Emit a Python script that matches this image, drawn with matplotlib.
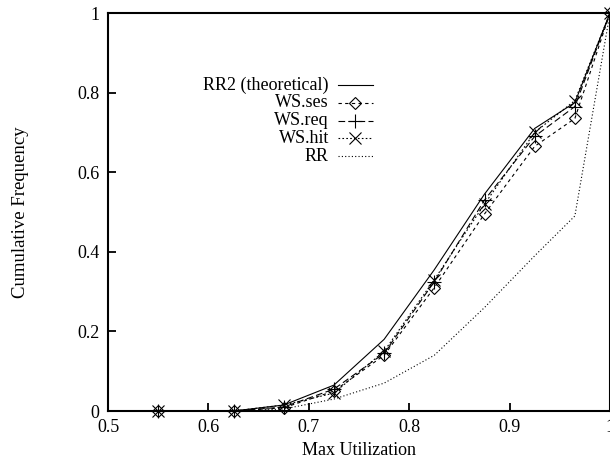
import numpy as np
import matplotlib
matplotlib.use("Agg")
import matplotlib.pyplot as plt

plt.rcParams['font.family'] = ['Liberation Serif', 'DejaVu Serif']

# utilization bins (x) and cumulative frequency per policy
util = [0.55, 0.625, 0.675, 0.725, 0.775, 0.825, 0.875, 0.925, 0.965, 1.0]
rr2 = [0.0, 0.0, 0.015, 0.065, 0.18, 0.355, 0.545, 0.71, 0.775, 1.0]
ws_ses = [0.0, 0.0, 0.008, 0.05, 0.14, 0.31, 0.495, 0.665, 0.735, 1.0]
ws_req = [0.0, 0.0, 0.01, 0.055, 0.145, 0.325, 0.53, 0.69, 0.765, 1.0]
ws_hit = [0.0, 0.0, 0.015, 0.045, 0.15, 0.33, 0.52, 0.70, 0.78, 1.0]
rr = [0.0, 0.0, 0.005, 0.03, 0.07, 0.14, 0.26, 0.39, 0.49, 1.0]

labels = ["RR2 (theoretical)", "WS.ses", "WS.req", "WS.hit", "RR"]
series = [rr2, ws_ses, ws_req, ws_hit, rr]
styles = [
    dict(ls='-', marker=None),
    dict(ls=(0, (3, 3)), marker='D', ms=6.5),
    dict(ls=(0, (6, 3)), marker='+', ms=10),
    dict(ls=(0, (1.5, 2)), marker='x', ms=8),
    dict(ls=(0, (1, 2)), marker=None),
]

fig = plt.figure(figsize=(6.1, 4.62), dpi=100)
ax = fig.add_axes([108/610, 1-411/462, 502/610, 398/462])

for ys, st in zip(series, styles):
    ax.plot(util, ys, color='black', lw=0.8, linestyle=st['ls'],
            marker=st['marker'], ms=st.get('ms', 0), mfc='none', mec='black', mew=0.8,
            clip_on=False)

# legend drawn by hand: right aligned text, sample line after it
for i, (lab, st) in enumerate(zip(labels, styles)):
    yy = 0.819 - i * 0.0447
    ax.text(0.440, yy, lab, transform=ax.transAxes, ha='right', va='center', fontsize=13)
    ax.plot([0.458, 0.528], [yy, yy], transform=ax.transAxes, color='black', lw=0.8,
            linestyle=st['ls'])
    if st['marker']:
        ax.plot([0.492], [yy], transform=ax.transAxes, color='black', marker=st['marker'],
                ms=st.get('ms', 0), mfc='none', mew=0.8)

ax.set_xlim(0.5, 1.0)
ax.set_ylim(0, 1)
ax.set_xticks([0.5, 0.6, 0.7, 0.8, 0.9, 1.0])
ax.set_xticklabels(['0.5', '0.6', '0.7', '0.8', '0.9', '1'])
ax.set_yticks([0, 0.2, 0.4, 0.6, 0.8, 1])
ax.set_yticklabels(['0', '0.2', '0.4', '0.6', '0.8', '1'])
ax.tick_params(direction='in', length=6, width=1.3, labelsize=13)
ax.tick_params(axis='x', pad=6)
ax.tick_params(axis='y', pad=6)
for s in ax.spines.values():
    s.set_linewidth(1.5)
ax.set_xlabel("Max Utilization", fontsize=13)
ax.xaxis.set_label_coords(0.5, -0.1)
ax.xaxis.label.set_va('center')
ax.set_ylabel("Cumulative Frequency", fontsize=13.5)
ax.yaxis.set_label_coords(-0.175, 0.5)
ax.yaxis.label.set_va('center')

fig.savefig("out.png", dpi=100)
